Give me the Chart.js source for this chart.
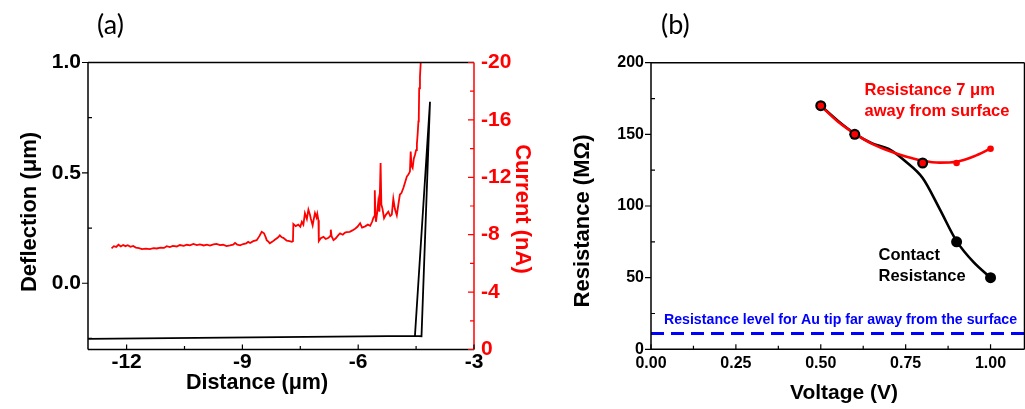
<!DOCTYPE html>
<html>
<head>
<meta charset="utf-8">
<script src="https://cdn.jsdelivr.net/npm/chart.js@4.4.1/dist/chart.umd.min.js"></script>
<style>
  html, body { margin:0; padding:0; background:#fff; overflow:hidden; }
  #wrap { position:relative; width:1025px; height:409px; overflow:hidden; background:#fff; }
  canvas { position:absolute; top:0; }
  .lab { position:absolute; top:8px; font-family:Lato, "Open Sans", sans-serif; font-size:27px; line-height:32px; color:#000; }
</style>
</head>
<body>
<div id="wrap">
  <canvas id="ca" width="560" height="409" style="left:0"></canvas>
  <canvas id="cb" width="470" height="409" style="left:560px"></canvas>
  <div class="lab" style="left:97px">(a)</div>
  <div class="lab" style="left:661px">(b)</div>
</div>
<script>
// ---------- Panel (a) data ----------
const defX = [-13, -4.53, -4.14, -4.36, -4.53];
const defY = [-0.252, -0.238, 0.822, -0.24, -0.238];

const curX = [-12.39,-12.33,-12.27,-12.21,-12.15,-12.09,-12.03,-11.97,-11.90,-11.83,-11.76,-11.68,-11.60,-11.50,-11.40,-11.30,-11.22,-11.12,-11.03,-10.96,
  -10.88,-10.80,-10.70,-10.62,-10.52,-10.44,-10.36,-10.27,-10.18,-10.10,-10.00,-9.92,-9.84,-9.75,-9.67,-9.58,-9.50,-9.41,-9.32,-9.24,
  -9.19,-9.13,-9.06,-8.98,-8.90,-8.85,-8.80,-8.72,-8.63,-8.56,-8.50,-8.44,-8.40,-8.37,-8.32,-8.29,-8.22,-8.16,-8.08,-8.03,
  -7.98,-7.94,-7.88,-7.85,-7.78,-7.72,-7.69,-7.68,-7.62,-7.55,-7.50,-7.46,-7.42,-7.38,-7.33,-7.29,-7.25,-7.23,-7.20,-7.18,
  -7.15,-7.12,-7.08,-7.06,-7.03,-7.02,-6.97,-6.90,-6.84,-6.77,-6.73,-6.71,-6.69,-6.64,-6.58,-6.52,-6.47,-6.40,-6.34,-6.30,
  -6.22,-6.15,-6.08,-6.02,-5.95,-5.90,-5.82,-5.75,-5.69,-5.64,-5.61,-5.58,-5.57,-5.555,-5.54,-5.51,-5.48,-5.45,-5.42,-5.40,
  -5.37,-5.33,-5.28,-5.22,-5.17,-5.13,-5.09,-5.05,-5.00,-4.96,-4.92,-4.88,-4.83,-4.79,-4.74,-4.70,-4.66,-4.64,-4.62,-4.59,
  -4.56,-4.53,-4.50,-4.48,-4.46,-4.44,-4.43,-4.42,-4.40,-4.38];
const curY = [-7.05,-7.2,-7.15,-7.3,-7.18,-7.28,-7.2,-7.27,-7.16,-7.22,-7.1,-7.07,-7.0,-7.03,-7.0,-7.06,-7.04,-7.1,-7.08,-7.2,
  -7.14,-7.22,-7.18,-7.28,-7.22,-7.3,-7.26,-7.36,-7.28,-7.33,-7.25,-7.3,-7.24,-7.33,-7.36,-7.28,-7.3,-7.2,-7.25,-7.3,
  -7.42,-7.3,-7.26,-7.35,-7.4,-7.5,-7.42,-7.55,-7.62,-7.9,-8.2,-8.1,-7.85,-7.62,-7.5,-7.4,-7.52,-7.65,-7.8,-7.95,
  -7.82,-7.78,-7.65,-7.58,-7.55,-7.5,-7.55,-8.75,-8.6,-8.7,-8.55,-8.9,-8.7,-9.5,-9.1,-9.75,-9.4,-9.15,-8.85,-8.65,
  -9.1,-9.5,-9.2,-9.45,-9.0,-7.55,-7.75,-7.85,-7.7,-7.78,-7.9,-8.35,-7.9,-7.62,-7.75,-7.95,-8.1,-8.0,-8.15,-8.18,
  -8.2,-8.3,-8.42,-8.55,-8.8,-8.5,-8.58,-8.7,-8.62,-8.9,-9.15,-9.3,-11.1,-9.4,-8.9,-9.5,-10.3,-9.6,-13.0,-10.1,
  -9.8,-9.15,-9.4,-9.6,-9.3,-9.4,-10.5,-9.8,-9.35,-10.1,-10.8,-10.9,-11.25,-11.6,-12.05,-12.2,-12.4,-13.8,-12.8,-12.65,
  -13.3,-13.55,-13.9,-14.3,-15.0,-15.9,-16.2,-18.2,-19.0,-20.0];

const aXTicks = [-12, -9, -6, -3];
const aXMinor = [-10.5, -7.5, -4.5];
const aYTicks = [0, 0.5, 1.0];
const aYMinor = [-0.25, 0.25, 0.75];
const aY2Ticks = [0, -4, -8, -12, -16, -20];
const aY2Minor = [-2, -6, -10, -14, -18];

// ---------- Panel (b) data ----------
const voltage = [0.5, 0.6, 0.8, 0.9, 1.0];
const contactR = [170, 150, 130, 75, 50];
const awayR = [170, 150, 130, 130, 140];
const fitV = [0.5, 0.55, 0.6, 0.65, 0.7, 0.75, 0.8, 0.85, 0.9, 0.95, 1.0];
const fitContact = [170, 159.5, 150.5, 143.8, 139.8, 131, 119.5, 98, 75.5, 60.8, 50];
const fitAway = [170, 159, 150.5, 143.5, 138.5, 134.5, 131.6, 130.3, 130.9, 134.5, 140];
const tipLevel = 11;
const bXTicks = [0, 0.25, 0.5, 0.75, 1.0];
const bXMinor = [0.125, 0.375, 0.625, 0.875];
const bYTicks = [0, 50, 100, 150, 200];
const bYMinor = [25, 75, 125, 175];

const FONT = '"Liberation Sans", Arial, Helvetica, sans-serif';
const RED = '#ff0000', BLACK = '#000000', BLUE = '#0000ff';

function drawTicks(chart, id, values, len, dir, color) {
  const s = chart.scales[id], ctx = chart.ctx, a = chart.chartArea;
  ctx.save();
  ctx.strokeStyle = color; ctx.lineWidth = 1.2; ctx.beginPath();
  values.forEach(v => {
    const p = s.getPixelForValue(v);
    if (s.isHorizontal()) { ctx.moveTo(p, a.bottom); ctx.lineTo(p, a.bottom - dir * len); }
    else if (s.position === 'left') { ctx.moveTo(a.left, p); ctx.lineTo(a.left + dir * len, p); }
    else { ctx.moveTo(a.right, p); ctx.lineTo(a.right - dir * len, p); }
  });
  ctx.stroke(); ctx.restore();
}
function line(ctx, x1, y1, x2, y2, color, w) {
  ctx.save(); ctx.strokeStyle = color; ctx.lineWidth = w; ctx.beginPath();
  ctx.moveTo(x1, y1); ctx.lineTo(x2, y2); ctx.stroke(); ctx.restore();
}
function title(ctx, text, x, y, rot, size, color) {
  ctx.save();
  ctx.translate(x, y); ctx.rotate(rot);
  ctx.font = 'bold ' + size + 'px ' + FONT;
  ctx.fillStyle = color; ctx.textAlign = 'center'; ctx.textBaseline = 'middle';
  ctx.fillText(text, 0, 0);
  ctx.restore();
}
function fixedTicks(arr) { return s => { s.ticks = arr.map(v => ({ value: v })); }; }

const frameA = {
  id: 'frameA',
  afterDraw(chart) {
    const ctx = chart.ctx, a = chart.chartArea;
    line(ctx, a.left, a.top, a.right, a.top, BLACK, 1.5);
    line(ctx, a.left, a.bottom, a.right, a.bottom, BLACK, 1.5);
    line(ctx, a.left, a.top, a.left, a.bottom, BLACK, 1.5);
    line(ctx, a.right, a.top, a.right, a.bottom, RED, 1.5);
    drawTicks(chart, 'x', aXTicks, 5, 1, BLACK);
    drawTicks(chart, 'x', aXMinor, 3.5, 1, BLACK);
    drawTicks(chart, 'y', aYTicks, 6, -1, BLACK);
    drawTicks(chart, 'y', aYMinor, 4, 1, BLACK);
    drawTicks(chart, 'y2', aY2Ticks, 6, 1, RED);
    drawTicks(chart, 'y2', aY2Minor, 4, 1, RED);
    title(ctx, 'Distance (μm)', 257, 383, 0, 21.5, BLACK);
    title(ctx, 'Deflection (μm)', 30, 212, -Math.PI / 2, 22, BLACK);
    title(ctx, 'Current (nA)', 522, 209, Math.PI / 2, 22, RED);
  }
};

new Chart(document.getElementById('ca'), {
  type: 'scatter',
  data: { datasets: [
    { data: defX.map((x, i) => ({ x, y: defY[i] })), xAxisID: 'x', yAxisID: 'y', showLine: true,
      borderColor: BLACK, borderWidth: 1.8, pointRadius: 0, tension: 0, order: 1 },
    { data: curX.map((x, i) => ({ x, y: curY[i] })), xAxisID: 'x', yAxisID: 'y2', showLine: true,
      borderColor: RED, borderWidth: 1.8, pointRadius: 0, tension: 0, order: 2 }
  ]},
  options: {
    responsive: false, animation: false, devicePixelRatio: 1,
    layout: { padding: { top: 62.5, left: 0, right: 0, bottom: 0 } },
    plugins: { legend: { display: false }, tooltip: { enabled: false } },
    scales: {
      x: { type: 'linear', position: 'bottom', min: -13, max: -3,
        grid: { display: false, drawTicks: false }, border: { display: false },
        afterBuildTicks: fixedTicks(aXTicks),
        ticks: { padding: 0, color: BLACK, autoSkip: false, maxRotation: 0,
          font: { family: FONT, size: 21, weight: 'bold' }, callback: v => String(v) },
        afterFit: s => { s.height = 59.5; } },
      y: { type: 'linear', position: 'left', min: -0.3, max: 1.0,
        grid: { display: false, drawTicks: false }, border: { display: false },
        afterBuildTicks: fixedTicks(aYTicks),
        ticks: { padding: 7, color: BLACK, autoSkip: false,
          font: { family: FONT, size: 21, weight: 'bold' }, callback: v => Number(v).toFixed(1) },
        afterFit: s => { s.width = 88; } },
      y2: { type: 'linear', position: 'right', min: -20, max: 0, reverse: true,
        grid: { display: false, drawTicks: false }, border: { display: false },
        afterBuildTicks: fixedTicks(aY2Ticks),
        ticks: { padding: 7, color: RED, autoSkip: false,
          font: { family: FONT, size: 21, weight: 'bold' }, callback: v => String(v) },
        afterFit: s => { s.width = 86; } }
    }
  },
  plugins: [frameA]
});

const frameB = {
  id: 'frameB',
  afterDraw(chart) {
    const ctx = chart.ctx, a = chart.chartArea;
    const xs = chart.scales.x, ys = chart.scales.y;
    line(ctx, a.left, a.top, a.right, a.top, BLACK, 1.5);
    line(ctx, a.left, a.bottom, a.right, a.bottom, BLACK, 1.5);
    line(ctx, a.left, a.top, a.left, a.bottom, BLACK, 1.5);
    line(ctx, a.right, a.top, a.right, a.bottom, BLACK, 1.5);
    drawTicks(chart, 'x', bXTicks, 5, 1, BLACK);
    drawTicks(chart, 'x', bXMinor, 3.5, 1, BLACK);
    drawTicks(chart, 'y', bYTicks, 6, -1, BLACK);
    drawTicks(chart, 'y', bYMinor, 4, 1, BLACK);
    title(ctx, 'Voltage (V)', 844 - 560, 393, 0, 21, BLACK);
    title(ctx, 'Resistance (MΩ)', 583 - 560, 221, -Math.PI / 2, 22, BLACK);
    ctx.save();
    ctx.textAlign = 'left'; ctx.textBaseline = 'middle';
    ctx.font = 'bold 16.5px ' + FONT;
    ctx.fillStyle = RED;
    ctx.fillText('Resistance 7 μm', xs.getPixelForValue(0.629), ys.getPixelForValue(180.9));
    ctx.fillText('away from surface', xs.getPixelForValue(0.629), ys.getPixelForValue(166.3));
    ctx.fillStyle = BLACK;
    ctx.fillText('Contact', xs.getPixelForValue(0.670), ys.getPixelForValue(65.8));
    ctx.fillText('Resistance', xs.getPixelForValue(0.670), ys.getPixelForValue(51.1));
    ctx.font = 'bold 14.2px ' + FONT;
    ctx.fillStyle = BLUE;
    ctx.fillText('Resistance level for Au tip far away from the surface', xs.getPixelForValue(0.038), ys.getPixelForValue(20.4));
    ctx.restore();
  }
};

const bXMax = 1.1;
new Chart(document.getElementById('cb'), {
  type: 'scatter',
  data: { datasets: [
    { data: [{ x: 0, y: tipLevel }, { x: bXMax, y: tipLevel }], showLine: true, borderColor: BLUE,
      borderWidth: 3, borderDash: [13, 7], pointRadius: 0, order: 5 },
    { data: fitV.map((x, i) => ({ x, y: fitContact[i] })), showLine: true, borderColor: BLACK,
      borderWidth: 2.6, pointRadius: 0, tension: 0.4, cubicInterpolationMode: 'monotone', order: 4 },
    { data: fitV.map((x, i) => ({ x, y: fitAway[i] })), showLine: true, borderColor: RED,
      borderWidth: 2.6, pointRadius: 0, tension: 0.4, cubicInterpolationMode: 'monotone', order: 3 },
    { data: voltage.map((x, i) => ({ x, y: contactR[i] })), showLine: false,
      pointRadius: 5.5, pointBackgroundColor: BLACK, pointBorderColor: BLACK, pointBorderWidth: 0, order: 2 },
    { data: voltage.map((x, i) => ({ x, y: awayR[i] })), showLine: false,
      pointRadius: 3.3, pointBackgroundColor: RED, pointBorderColor: RED, pointBorderWidth: 0, order: 1 }
  ]},
  options: {
    responsive: false, animation: false, devicePixelRatio: 1,
    layout: { padding: { top: 62.7, left: 0, right: 3.2, bottom: 0 } },
    plugins: { legend: { display: false }, tooltip: { enabled: false } },
    scales: {
      x: { type: 'linear', position: 'bottom', min: 0, max: bXMax,
        grid: { display: false, drawTicks: false }, border: { display: false },
        afterBuildTicks: fixedTicks(bXTicks),
        ticks: { padding: 5, color: BLACK, autoSkip: false, maxRotation: 0,
          font: { family: FONT, size: 16, weight: 'bold' }, callback: v => Number(v).toFixed(2) },
        afterFit: s => { s.height = 59.7; } },
      y: { type: 'linear', position: 'left', min: 0, max: 200,
        grid: { display: false, drawTicks: false }, border: { display: false },
        afterBuildTicks: fixedTicks(bYTicks),
        ticks: { padding: 7, color: BLACK, autoSkip: false,
          font: { family: FONT, size: 16, weight: 'bold' }, callback: v => String(v) },
        afterFit: s => { s.width = 91; } }
    }
  },
  plugins: [frameB]
});
</script>
</body>
</html>
